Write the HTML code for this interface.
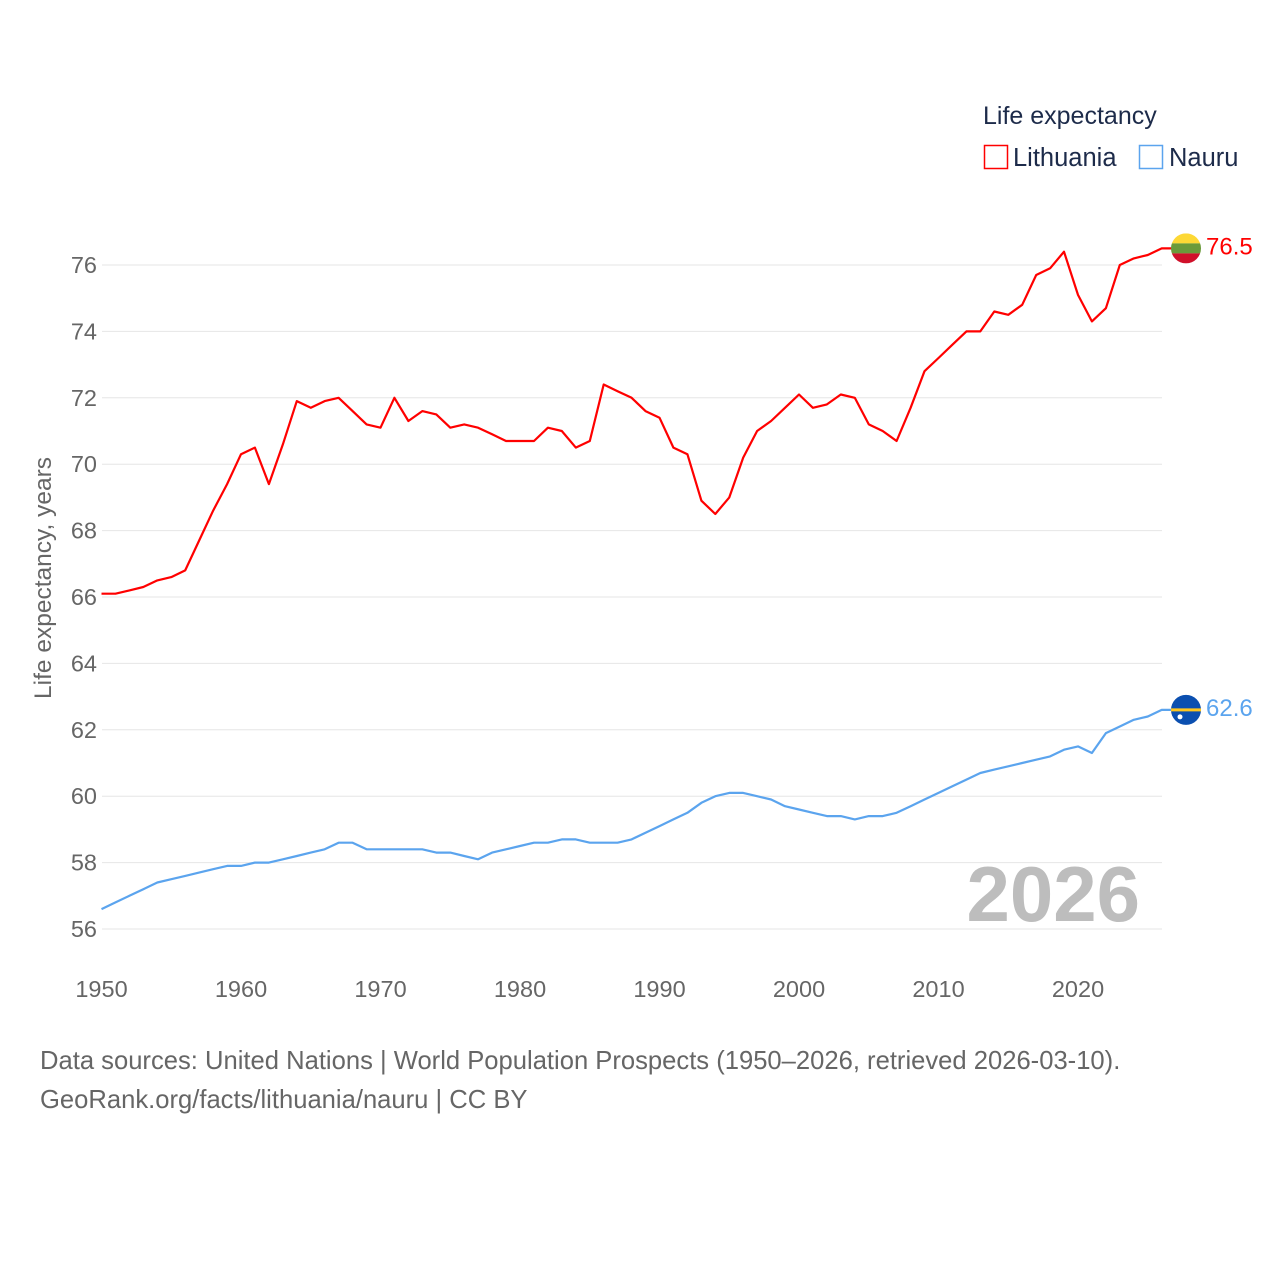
<!DOCTYPE html>
<html><head><meta charset="utf-8"><style>
body{margin:0;background:#fff;font-family:"Liberation Sans",sans-serif}
svg text{font-family:"Liberation Sans",sans-serif}
</style></head><body>
<svg id="chart" width="1280" height="1280" viewBox="0 0 1280 1280" xmlns="http://www.w3.org/2000/svg">
<g id="grid"></g>
<g id="yticks"></g>
<g id="xticks"></g>
<text transform="translate(51,578) rotate(-90)" text-anchor="middle" font-size="24.5" fill="#666">Life expectancy, years</text>
<text x="1140" y="921" text-anchor="end" font-size="78" font-weight="bold" fill="#bdbdbd">2026</text>
<g id="lines"></g>
<g>
<text x="983" y="124" font-size="25" fill="#1d2b4a">Life expectancy</text>
<rect x="984.5" y="145.5" width="23" height="23" fill="none" stroke="#ff0000" stroke-width="1.5"/>
<text x="1013" y="166" font-size="25.5" fill="#1d2b4a">Lithuania</text>
<rect x="1139.5" y="145.5" width="23" height="23" fill="none" stroke="#5ba4ee" stroke-width="1.5"/>
<text x="1169" y="166" font-size="25.5" fill="#1d2b4a">Nauru</text>
</g>
<text x="40" y="1069" font-size="25.6" fill="#666">Data sources: United Nations | World Population Prospects (1950–2026, retrieved 2026-03-10).</text>
<text x="40" y="1108" font-size="25.6" fill="#666">GeoRank.org/facts/lithuania/nauru | CC BY</text>
</svg>
<script>
const years=[];for(let y=1950;y<=2026;y++)years.push(y);
const lithuania=[66.1,66.1,66.2,66.3,66.5,66.6,66.8,67.7,68.6,69.4,70.3,70.5,69.4,70.6,71.9,71.7,71.9,72.0,71.6,71.2,71.1,72.0,71.3,71.6,71.5,71.1,71.2,71.1,70.9,70.7,70.7,70.7,71.1,71.0,70.5,70.7,72.4,72.2,72.0,71.6,71.4,70.5,70.3,68.9,68.5,69.0,70.2,71.0,71.3,71.7,72.1,71.7,71.8,72.1,72.0,71.2,71.0,70.7,71.7,72.8,73.2,73.6,74.0,74.0,74.6,74.5,74.8,75.7,75.9,76.4,75.1,74.3,74.7,76.0,76.2,76.3,76.5];
const nauru=[56.6,56.8,57.0,57.2,57.4,57.5,57.6,57.7,57.8,57.9,57.9,58.0,58.0,58.1,58.2,58.3,58.4,58.6,58.6,58.4,58.4,58.4,58.4,58.4,58.3,58.3,58.2,58.1,58.3,58.4,58.5,58.6,58.6,58.7,58.7,58.6,58.6,58.6,58.7,58.9,59.1,59.3,59.5,59.8,60.0,60.1,60.1,60.0,59.9,59.7,59.6,59.5,59.4,59.4,59.3,59.4,59.4,59.5,59.7,59.9,60.1,60.3,60.5,60.7,60.8,60.9,61.0,61.1,61.2,61.4,61.5,61.3,61.9,62.1,62.3,62.4,62.6];
const yTicks=[56,58,60,62,64,66,68,70,72,74,76];
const xTicks=[1950,1960,1970,1980,1990,2000,2010,2020];
const NS='http://www.w3.org/2000/svg';
const X=y=>101.5+(y-1950)*13.95;
const Y=v=>265+(76-v)*33.2;
function mk(tag,attrs,parent,txt){const e=document.createElementNS(NS,tag);for(const k in attrs)e.setAttribute(k,attrs[k]);if(txt!==undefined)e.textContent=txt;document.getElementById(parent).appendChild(e);return e;}
yTicks.forEach(t=>{
 const l=mk('line',{x1:102,x2:1162,y1:Y(t),y2:Y(t),stroke:'#e6e6e6','stroke-width':1},'grid');
 
 
 const tx=mk('text',{x:97,y:Y(t)+8,'text-anchor':'end','font-size':23.5,fill:'#666'},'yticks',t);
 
 
});
xTicks.forEach(t=>{
 const tx=mk('text',{x:X(t),y:997,'text-anchor':'middle','font-size':23.5,fill:'#666'},'xticks',t);
 
 
});
function series(vals,color,name){
 const d=vals.map((v,i)=>(i?'L':'M')+X(years[i]).toFixed(1)+','+Y(v).toFixed(1)).join('')+'H1175';
 const p=mk('path',{d:d,fill:'none',stroke:color,'stroke-width':2.2,'stroke-linejoin':'round'},'lines');
 
 
 const last=vals[vals.length-1];
 const lbl=mk('text',{x:1206,y:Y(last)+6,'font-size':24,fill:color},'lines',last.toFixed(1));
 
 
 return Y(last);
}
const yl=series(lithuania,'#ff0000','lithuania');
const yn=series(nauru,'#5ba4ee','nauru');
const g1=mk('g',{},'lines');


g1.innerHTML=`<clipPath id="c1"><circle cx="1186" cy="${yl}" r="15"/></clipPath><g clip-path="url(#c1)"><rect x="1171" y="${yl-15}" width="30" height="10" fill="#fdd835"/><rect x="1171" y="${yl-5}" width="30" height="10" fill="#6a9a3a"/><rect x="1171" y="${yl+5}" width="30" height="10" fill="#d0102a"/></g>`;
const g2=mk('g',{},'lines');


g2.innerHTML=`<circle cx="1186" cy="${yn}" r="15" fill="#0b4fb0"/><rect x="1171" y="${yn-1.5}" width="30" height="3" fill="#ffc61e"/><circle cx="1180" cy="${yn+7}" r="2.5" fill="#fff"/>`;
</script>
</body></html>
